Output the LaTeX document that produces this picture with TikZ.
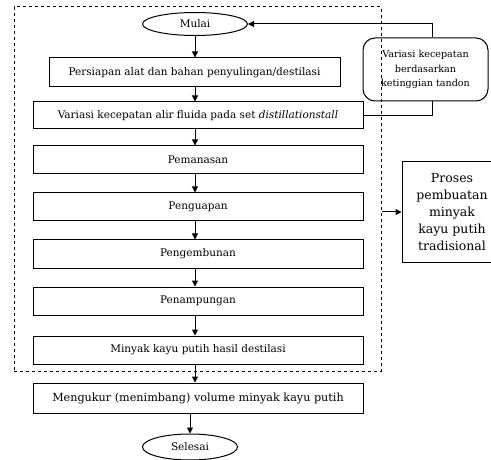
\documentclass[tikz,border=0pt]{standalone}
\usepackage{fontspec}
\setmainfont{DejaVu Serif}
\usetikzlibrary{positioning, shapes.geometric, arrows.meta}

\begin{document}
\begin{tikzpicture}[x=1pt, y=-1pt, line width=1pt, >={Triangle[length=6pt, width=6pt]},
    every node/.style={draw, rectangle, align=center, inner sep=2pt, font=\fontsize{10.5}{13}\selectfont}]
    \useasboundingbox (0,0) rectangle (491,460);
    \clip (0,0) rectangle (491,460);
    % Nodes
    \node[dashed, minimum width=367, minimum height=364] (frame) at (197.5,189) {};
    \node[ellipse, minimum width=105, minimum height=23] (mulai) at (195,24) {Mulai};
    \node[minimum width=291, minimum height=29] (persiapan) at (194.5,72.5) {Persiapan alat dan bahan penyulingan/destilasi};
    \node[minimum width=330, minimum height=27] (alir) at (198,115.5) {Variasi kecepatan alir fluida pada set \textit{distillationstall}};
    \node[minimum width=330, minimum height=28] (panas) at (198,160) {Pemanasan};
    \node[minimum width=330, minimum height=28] (uap) at (198,207) {Penguapan};
    \node[minimum width=330, minimum height=28] (embun) at (198,254) {Pengembunan};
    \node[minimum width=330, minimum height=28] (tampung) at (198,301) {Penampungan};
    \node[minimum width=330, minimum height=28] (hasil) at (198,350) {Minyak kayu putih hasil destilasi};
    \node[minimum width=330, minimum height=30, font=\fontsize{11.2}{13}\selectfont] (ukur) at (198,398) {Mengukur (menimbang) volume minyak kayu putih};
    \node[ellipse, minimum width=95, minimum height=26] (selesai) at (190,447) {Selesai};
    \node[rounded corners=12pt, minimum width=125, minimum height=63, font=\fontsize{9.6}{14.5}\selectfont] (tandon) at (425.5,69.5) {Variasi kecepatan\\berdasarkan\\ketinggian tandon};
    \node[minimum width=100, minimum height=100, font=\fontsize{12.5}{17}\selectfont] (proses) at (452,212) {Proses\\pembuatan\\minyak\\kayu putih\\tradisional};

    % Arrows
    \draw[->] (mulai) -- (persiapan.north -| mulai);
    \draw[->] (persiapan.south -| mulai) -- (alir.north -| mulai);
    \draw[->] (alir.south -| mulai) -- (panas.north -| mulai);
    \draw[->] (panas.south -| mulai) -- (uap.north -| mulai);
    \draw[->] (uap.south -| mulai) -- (embun.north -| mulai);
    \draw[->] (embun.south -| mulai) -- (tampung.north -| mulai);
    \draw[->] (tampung.south -| mulai) -- (hasil.north -| mulai);
    \draw[->] (hasil.south -| mulai) -- (ukur.north -| mulai);
    \draw[->] (ukur.south -| selesai) -- (selesai);
    \draw (alir.east) -| ([xshift=6.5]tandon.south);
    \draw[->] ([xshift=6.5]tandon.north) |- (mulai.east);
    \draw[->] (frame.east |- proses) -- (proses.west);
\end{tikzpicture}
\end{document}
